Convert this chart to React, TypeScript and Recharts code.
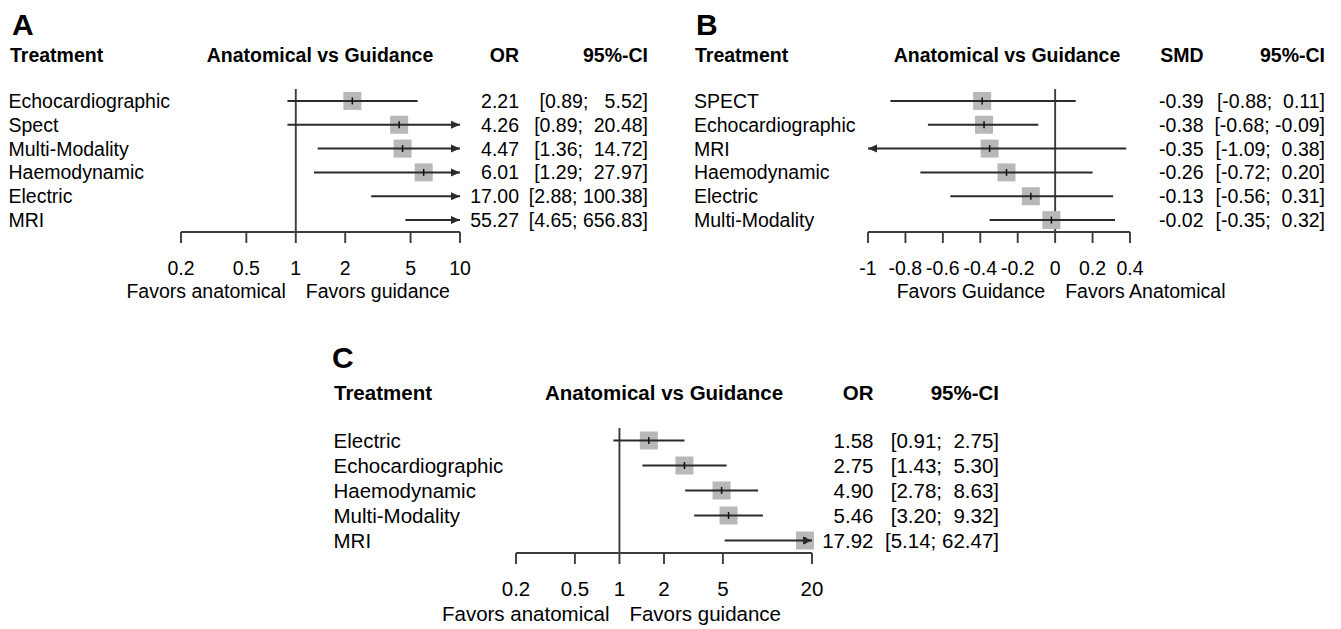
import { ReferenceLine, Scatter, ScatterChart, XAxis, YAxis } from "recharts";

const FONT = '"Liberation Sans", Arial, Helvetica, sans-serif';
const INK = "#000";
const STROKE = "#2a2a2a";
const AXIS = "#3c3c3c";
const SQUARE = "#b8b8b8";

// A: odds ratio
const treatmentsA = ["Echocardiographic", "Spect", "Multi-Modality", "Haemodynamic", "Electric", "MRI"];
const orA = [2.21, 4.26, 4.47, 6.01, 17.0, 55.27];
const lowerA = [0.89, 0.89, 1.36, 1.29, 2.88, 4.65];
const upperA = [5.52, 20.48, 14.72, 27.97, 100.38, 656.83];
const ticksA = [0.2, 0.5, 1, 2, 5, 10];

// B: standardised mean difference
const treatmentsB = ["SPECT", "Echocardiographic", "MRI", "Haemodynamic", "Electric", "Multi-Modality"];
const smdB = [-0.39, -0.38, -0.35, -0.26, -0.13, -0.02];
const lowerB = [-0.88, -0.68, -1.09, -0.72, -0.56, -0.35];
const upperB = [0.11, -0.09, 0.38, 0.2, 0.31, 0.32];
const ticksB = [-1, -0.8, -0.6, -0.4, -0.2, 0, 0.2, 0.4];

// C: odds ratio
const treatmentsC = ["Electric", "Echocardiographic", "Haemodynamic", "Multi-Modality", "MRI"];
const orC = [1.58, 2.75, 4.9, 5.46, 17.92];
const lowerC = [0.91, 1.43, 2.78, 3.2, 5.14];
const upperC = [2.75, 5.3, 8.63, 9.32, 62.47];
const ticksC = [0.2, 0.5, 1, 2, 5, 20];

interface PanelProps {
  letter: string;
  measure: string;
  names: string[];
  est: number[];
  lower: number[];
  upper: number[];
  ticks: number[];
  log: boolean;
  nullValue: number;
  favors: [string, string];
  left: number;
  top: number;
  width: number;
  height: number;
  plotLeft: number;
  plotRight: number;
  plotTop: number;
  plotBottom: number;
  fontSize: number;
  letterPos: [number, number];
  headerY: number;
  treatmentX: number;
  titleX: number;
  labelX: number;
  estX: number;
  ciX: number;
  tickDy: number;
  favorsDy: number;
}

const Nothing = () => <g />;

const SquareShape = (props: any) => (
  <rect x={props.cx - 9} y={props.cy - 9} width={18} height={18} fill={SQUARE} />
);

const MidTick = (props: any) => (
  <line x1={props.cx} x2={props.cx} y1={props.cy - 3.5} y2={props.cy + 3.5} stroke="#111" strokeWidth={1.5} />
);

const ArrowRight = (props: any) => (
  <polygon
    points={`${props.cx},${props.cy} ${props.cx - 9},${props.cy - 4} ${props.cx - 9},${props.cy + 4}`}
    fill={STROKE}
  />
);

const ArrowLeft = (props: any) => (
  <polygon
    points={`${props.cx},${props.cy} ${props.cx + 9},${props.cy - 4} ${props.cx + 9},${props.cy + 4}`}
    fill={STROKE}
  />
);

function ForestPanel(p: PanelProps) {
  const min = p.ticks[0];
  const max = p.ticks[p.ticks.length - 1];
  const rows = p.names.map((name, i) => ({ y: i + 1, name, est: p.est[i], lo: p.lower[i], hi: p.upper[i] }));
  const squares = rows.filter((r) => r.est >= min && r.est <= max).map((r) => ({ x: r.est, y: r.y }));
  const segments = rows.map((r) => [
    { x: Math.max(r.lo, min), y: r.y },
    { x: Math.min(r.hi, max), y: r.y },
  ]);
  const rightArrows = rows.filter((r) => r.hi > max).map((r) => ({ x: max, y: r.y }));
  const leftArrows = rows.filter((r) => r.lo < min).map((r) => ({ x: min, y: r.y }));
  const hiLen = Math.max(...rows.map((r) => r.hi.toFixed(2).length));
  const fs = p.fontSize;

  const RowTick = (props: any) => {
    const r = rows[props.payload.value - 1];
    if (!r) return <g />;
    const yy = props.y + fs * 0.36;
    return (
      <g fontFamily={FONT} fontSize={fs} fill={INK}>
        <text x={p.labelX} y={yy}>{r.name}</text>
        <text x={p.estX} y={yy} textAnchor="end">{r.est.toFixed(2)}</text>
        <text x={p.ciX} y={yy} textAnchor="end" style={{ whiteSpace: "pre" }}>
          {`[${r.lo.toFixed(2)}; ${r.hi.toFixed(2).padStart(hiLen)}]`}
        </text>
      </g>
    );
  };

  const AxisTick = (props: any) => (
    <text x={props.x} y={props.y + p.tickDy} textAnchor="middle" fontFamily={FONT} fontSize={fs} fill={INK}>
      {String(props.payload.value)}
    </text>
  );

  const FavorsLabel = (props: any) => {
    const x = props.viewBox?.x ?? 0;
    const y = p.plotBottom + p.favorsDy;
    return (
      <g fontFamily={FONT} fontSize={fs} fill={INK}>
        <text x={x - 10} y={y} textAnchor="end">{p.favors[0]}</text>
        <text x={x + 10} y={y} textAnchor="start">{p.favors[1]}</text>
      </g>
    );
  };

  return (
    <div style={{ position: "absolute", left: p.left, top: p.top, width: p.width, height: p.height }}>
      <ScatterChart
        width={p.width}
        height={p.height}
        margin={{ top: p.plotTop, right: p.width - p.plotRight, bottom: p.height - p.plotBottom - 60, left: 0 }}
      >
        <XAxis
          type="number"
          dataKey="x"
          scale={p.log ? "log" : "linear"}
          domain={[min, max]}
          ticks={p.ticks}
          interval={0}
          height={60}
          tickSize={11}
          tickMargin={0}
          stroke={AXIS}
          axisLine={{ stroke: AXIS, strokeWidth: 1.9 }}
          tickLine={{ stroke: AXIS, strokeWidth: 1.9 }}
          tick={AxisTick}
        />
        <YAxis
          type="number"
          dataKey="y"
          domain={[0.5, rows.length + 0.5]}
          ticks={rows.map((r) => r.y)}
          interval={0}
          reversed
          width={p.plotLeft}
          axisLine={false}
          tickLine={false}
          tick={RowTick}
        />
        <ReferenceLine x={p.nullValue} stroke={AXIS} strokeWidth={1.9} label={FavorsLabel} />
        <Scatter data={squares} shape={SquareShape} isAnimationActive={false} />
        {segments.map((seg, i) => (
          <Scatter
            key={i}
            data={seg}
            shape={Nothing}
            line={{ stroke: STROKE, strokeWidth: 2 }}
            isAnimationActive={false}
          />
        ))}
        <Scatter data={squares} shape={MidTick} isAnimationActive={false} />
        <Scatter data={rightArrows} shape={ArrowRight} isAnimationActive={false} />
        <Scatter data={leftArrows} shape={ArrowLeft} isAnimationActive={false} />
      </ScatterChart>
      <svg
        width={p.width}
        height={p.height}
        style={{ position: "absolute", left: 0, top: 0, pointerEvents: "none" }}
        fontFamily={FONT}
        fill={INK}
      >
        <text x={p.letterPos[0]} y={p.letterPos[1]} fontSize={30} fontWeight="bold">{p.letter}</text>
        <g fontSize={fs} fontWeight="bold">
          <text x={p.treatmentX} y={p.headerY}>Treatment</text>
          <text x={p.titleX} y={p.headerY} textAnchor="middle">Anatomical vs Guidance</text>
          <text x={p.estX} y={p.headerY} textAnchor="end">{p.measure}</text>
          <text x={p.ciX} y={p.headerY} textAnchor="end">95%-CI</text>
        </g>
      </svg>
    </div>
  );
}

export default function App() {
  return (
    <div style={{ position: "absolute", left: 0, top: 0, width: 1341, height: 629, background: "#fff", overflow: "hidden" }}>
      <ForestPanel
        letter="A"
        measure="OR"
        names={treatmentsA}
        est={orA}
        lower={lowerA}
        upper={upperA}
        ticks={ticksA}
        log
        nullValue={1}
        favors={["Favors anatomical", "Favors guidance"]}
        left={0}
        top={0}
        width={660}
        height={310}
        plotLeft={181}
        plotRight={460}
        plotTop={89}
        plotBottom={232}
        fontSize={19.5}
        letterPos={[12, 35]}
        headerY={61.5}
        treatmentX={10}
        titleX={320}
        labelX={8.5}
        estX={519}
        ciX={648}
        tickDy={32}
        favorsDy={66}
      />
      <ForestPanel
        letter="B"
        measure="SMD"
        names={treatmentsB}
        est={smdB}
        lower={lowerB}
        upper={upperB}
        ticks={ticksB}
        log={false}
        nullValue={0}
        favors={["Favors Guidance", "Favors Anatomical"]}
        left={680}
        top={0}
        width={661}
        height={310}
        plotLeft={188}
        plotRight={450}
        plotTop={89}
        plotBottom={232}
        fontSize={19.5}
        letterPos={[16, 35]}
        headerY={61.5}
        treatmentX={15}
        titleX={327}
        labelX={14}
        estX={523.5}
        ciX={645}
        tickDy={32}
        favorsDy={66}
      />
      <ForestPanel
        letter="C"
        measure="OR"
        names={treatmentsC}
        est={orC}
        lower={lowerC}
        upper={upperC}
        ticks={ticksC}
        log
        nullValue={1}
        favors={["Favors anatomical", "Favors guidance"]}
        left={320}
        top={330}
        width={700}
        height={299}
        plotLeft={196}
        plotRight={492}
        plotTop={98}
        plotBottom={223}
        fontSize={20.5}
        letterPos={[12, 38]}
        headerY={70}
        treatmentX={14}
        titleX={344}
        labelX={13.5}
        estX={553.5}
        ciX={679}
        tickDy={31.5}
        favorsDy={67.5}
      />
    </div>
  );
}
